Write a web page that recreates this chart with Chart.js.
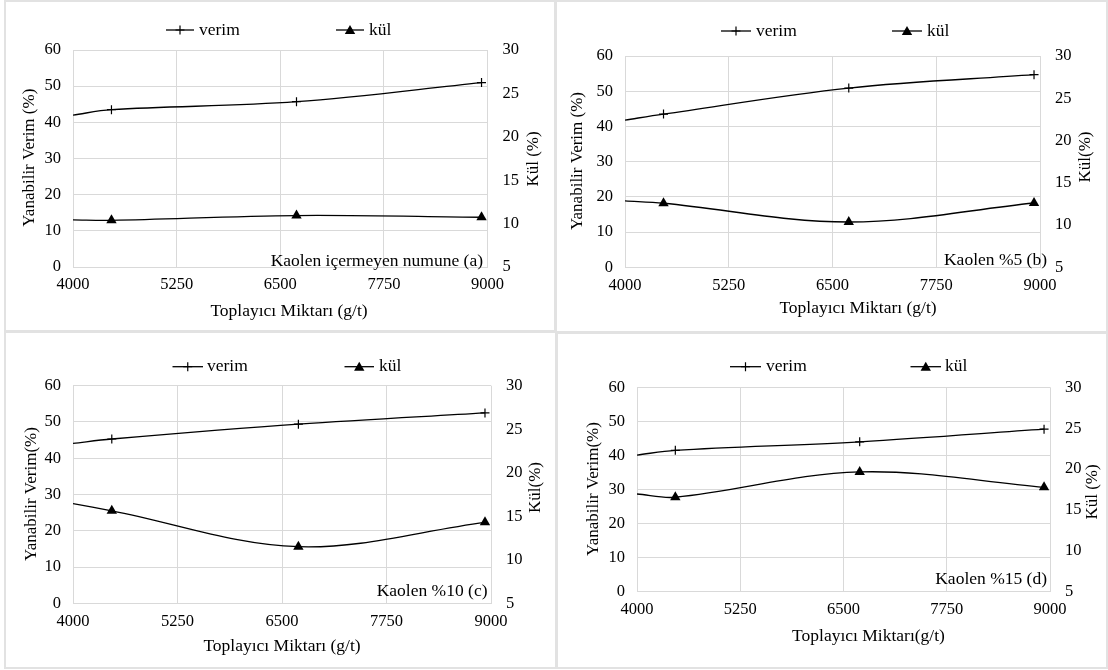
<!DOCTYPE html>
<html><head><meta charset="utf-8">
<script src="https://cdn.jsdelivr.net/npm/chart.js@4.4.0/dist/chart.umd.min.js"></script>
<style>
html,body{margin:0;padding:0;background:#fff;}
#wrap{position:relative;width:1108px;height:670px;overflow:hidden;background:#fff;}
.panel{position:absolute;box-sizing:border-box;border:2px solid #e2e2e2;}
canvas{position:absolute;}
</style></head><body><div id="wrap"></div>
<script>
// ---- data ----
const xValues = [4000, 4464, 6696, 8928];   // first value = curve start at axis edge (no marker)
const xTicks = [4000, 5250, 6500, 7750, 9000];
const yTicks = [0, 10, 20, 30, 40, 50, 60];
const y2Ticks = [5, 10, 15, 20, 25, 30];
const seriesNames = ['verim', 'kül'];

const verimA = [42.0, 43.5, 45.7, 51.0];
const kulA   = [10.42, 10.38, 10.93, 10.73];
const verimB = [41.8, 43.5, 50.9, 54.7];
const kulB   = [12.85, 12.58, 10.36, 12.61];
const verimC = [44.1, 45.3, 49.4, 52.5];
const kulC   = [16.46, 15.63, 11.5, 14.3];
const verimD = [40.1, 41.5, 44.0, 47.7];
const kulD   = [16.95, 16.55, 19.65, 17.77];

const notes = ['Kaolen içermeyen numune (a)', 'Kaolen %5 (b)', 'Kaolen %10 (c)', 'Kaolen %15 (d)'];
const xTitles = ['Toplayıcı Miktarı (g/t)', 'Toplayıcı Miktarı (g/t)', 'Toplayıcı Miktarı (g/t)', 'Toplayıcı Miktarı(g/t)'];
const yTitles = ['Yanabilir Verim (%)', 'Yanabilir Verim (%)', 'Yanabilir Verim(%)', 'Yanabilir Verim(%)'];
const y2Titles = ['Kül (%)', 'Kül(%)', 'Kül(%)', 'Kül (%)'];

// ---- layout (page pixels) ----
const panels = [
  {box:[4,0,552,332],   area:[73,50,487.5,267],   verim:verimA, kul:kulA,
   leg:{y:30, v:[166,194,199], k:[336,364,369]}, note:[483,261], xt:[289,311.5], yt:[30,157.7], y2t:[534,159]},
  {box:[555,0,553,333], area:[625,56,1040,267.3], verim:verimB, kul:kulB,
   leg:{y:31, v:[721,751,756], k:[892,922,927]}, note:[1047,260], xt:[858,308], yt:[578,161], y2t:[1085.5,157]},
  {box:[4,331,553,338], area:[73,385.7,491,603.3], verim:verimC, kul:kulC,
   leg:{y:366.7, v:[172.5,203,207], k:[344.5,374,379]}, note:[487.5,591.7], xt:[282,646.7], yt:[32,494], y2t:[535.7,487.5]},
  {box:[556,332,552,337], area:[637,387.3,1050,591.7], verim:verimD, kul:kulD,
   leg:{y:366.7, v:[730,761,766], k:[910.5,941,945]}, note:[1047,579], xt:[868.5,636.7], yt:[594,489], y2t:[1092.6,492]}
];

const FAM = '"Liberation Serif","Times New Roman",serif';
Chart.defaults.font.family = FAM;
Chart.defaults.color = '#000';
const GRID = '#d9d9d9';

function drawMarker(ctx, style, x, y, r){
  ctx.save();
  ctx.strokeStyle = '#000'; ctx.fillStyle = '#000'; ctx.lineWidth = 1.2;
  ctx.beginPath();
  if (style === 'cross'){
    ctx.moveTo(x - r, y); ctx.lineTo(x + r, y);
    ctx.moveTo(x, y - r); ctx.lineTo(x, y + r);
    ctx.stroke();
  } else {
    const w = r * Math.sqrt(3);
    ctx.moveTo(x, y - r); ctx.lineTo(x + w/2, y + r/2); ctx.lineTo(x - w/2, y + r/2); ctx.closePath();
    ctx.fill();
  }
  ctx.restore();
}

const extras = {
  id: 'extras',
  afterDraw(chart, args, opts){
    const p = opts.p, ctx = chart.ctx;
    const ox = p.box[0], oy = p.box[1];
    ctx.save();
    ctx.fillStyle = '#000';
    // legend
    ctx.font = '17.5px ' + FAM;
    ctx.textBaseline = 'middle'; ctx.textAlign = 'left';
    const ly = p.leg.y - oy;
    [['v','cross',4.5, seriesNames[0]], ['k','triangle',6, seriesNames[1]]].forEach(([key, st, r, txt]) => {
      const a = p.leg[key];
      ctx.strokeStyle = '#000'; ctx.lineWidth = 1.3;
      ctx.beginPath(); ctx.moveTo(a[0]-ox, ly); ctx.lineTo(a[1]-ox, ly); ctx.stroke();
      drawMarker(ctx, st, (a[0]+a[1])/2 - ox, ly + (st === 'triangle' ? 1 : 0), r);
      ctx.fillText(txt, a[2]-ox, ly);
    });
    // note
    ctx.textAlign = 'right';
    ctx.fillText(notes[opts.i], p.note[0]-ox, p.note[1]-oy);
    // x title
    ctx.textAlign = 'center';
    ctx.fillText(xTitles[opts.i], p.xt[0]-ox, p.xt[1]-oy);
    // y titles
    ctx.font = '17px ' + FAM;
    [[p.yt, yTitles[opts.i]], [p.y2t, y2Titles[opts.i]]].forEach(([pos, txt]) => {
      ctx.save();
      ctx.translate(pos[0]-ox, pos[1]-oy);
      ctx.rotate(-Math.PI/2);
      ctx.fillText(txt, 0, 0);
      ctx.restore();
    });
    ctx.restore();
  }
};

const wrap = document.getElementById('wrap');
panels.forEach((p, i) => {
  const [x0, y0, w, h] = p.box;
  const [L, T, R, B] = p.area;
  const d = document.createElement('div');
  d.className = 'panel';
  d.style.left = x0 + 'px'; d.style.top = y0 + 'px'; d.style.width = w + 'px'; d.style.height = h + 'px';
  wrap.appendChild(d);
  const cv = document.createElement('canvas');
  cv.width = w; cv.height = h;
  cv.style.left = x0 + 'px'; cv.style.top = y0 + 'px'; cv.style.width = w + 'px'; cv.style.height = h + 'px';
  wrap.appendChild(cv);

  const mk = arr => xValues.map((x, k) => ({x: x, y: arr[k]}));
  new Chart(cv.getContext('2d'), {
    type: 'line',
    data: {
      datasets: [
        {label: seriesNames[0], data: mk(p.verim), yAxisID: 'y', borderColor: '#000', borderWidth: 1.3,
         pointStyle: 'cross', pointRadius: [0, 4.5, 4.5, 4.5], pointBorderColor: '#000', pointBorderWidth: 1.2,
         pointBackgroundColor: '#000', tension: 0.35, fill: false},
        {label: seriesNames[1], data: mk(p.kul), yAxisID: 'y2', borderColor: '#000', borderWidth: 1.3,
         pointStyle: 'triangle', pointRadius: [0, 6, 6, 6], pointBorderColor: '#000', pointBorderWidth: 0,
         pointBackgroundColor: '#000', tension: 0.35, fill: false}
      ]
    },
    options: {
      responsive: false, animation: false, maintainAspectRatio: false,
      layout: {padding: {top: T - y0, left: 0, right: 0, bottom: 0}},
      plugins: {legend: {display: false}, tooltip: {enabled: false}, extras: {p: p, i: i}},
      scales: {
        x: {type: 'linear', position: 'bottom', min: xTicks[0], max: xTicks[xTicks.length-1],
            afterBuildTicks: s => { s.ticks = xTicks.map(v => ({value: v})); },
            afterFit: s => { s.height = (y0 + h) - B; },
            grid: {color: GRID, lineWidth: 1, drawTicks: false},
            border: {display: true, color: GRID},
            ticks: {padding: 8, font: {size: 16.5}, color: '#000', callback: v => String(v), maxRotation: 0, autoSkip: false}},
        y: {type: 'linear', position: 'left', min: yTicks[0], max: yTicks[yTicks.length-1],
            afterBuildTicks: s => { s.ticks = yTicks.map(v => ({value: v})); },
            afterFit: s => { s.width = L - x0; },
            grid: {color: GRID, lineWidth: 1, drawTicks: false},
            border: {display: true, color: GRID},
            ticks: {padding: 12, font: {size: 16.5}, color: '#000'}},
        y2: {type: 'linear', position: 'right', min: y2Ticks[0], max: y2Ticks[y2Ticks.length-1],
            afterBuildTicks: s => { s.ticks = y2Ticks.map(v => ({value: v})); },
            afterFit: s => { s.width = (x0 + w) - R; },
            grid: {display: false, drawTicks: false},
            border: {display: false},
            ticks: {padding: 15, font: {size: 16.5}, color: '#000'}}
      }
    },
    plugins: [extras]
  });
});
</script>
</body></html>
